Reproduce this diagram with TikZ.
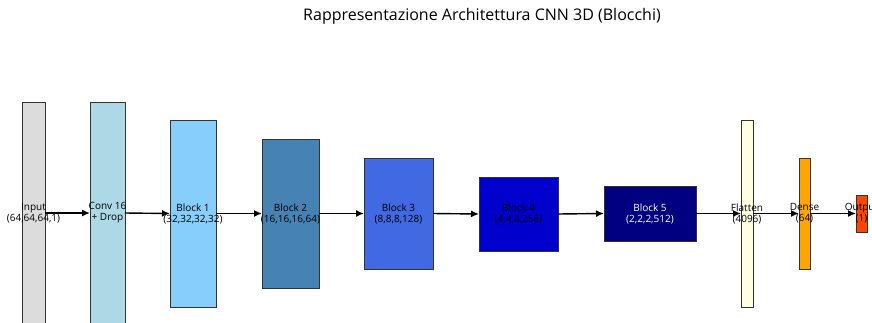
\documentclass[tikz,border=0pt]{standalone}
\usepackage{fontspec}
\setmainfont{Open Sans}
\usetikzlibrary{arrows.meta}
\definecolor{cInput}{HTML}{DCDCDC}
\definecolor{cConv}{HTML}{ADD8E6}
\definecolor{cB1}{HTML}{87CEFA}
\definecolor{cB2}{HTML}{4682B4}
\definecolor{cB3}{HTML}{4169E1}
\definecolor{cB4}{HTML}{0000CD}
\definecolor{cB5}{HTML}{000080}
\definecolor{cFlat}{HTML}{FFFFE0}
\definecolor{cDense}{HTML}{FFA500}
\definecolor{cOut}{HTML}{FF4500}
\definecolor{edge}{HTML}{333333}
\tikzset{
  layerbox/.style={draw=edge, line width=1pt, inner sep=0pt, outer sep=0pt, rectangle},
  lbl/.style={font=\fontsize{10}{11}\selectfont, align=center, inner sep=0pt},
  flow/.style={-{Latex[length=8pt,width=7pt]}, line width=1.4pt, black},
}
\newcommand{\layer}[6]{% name, x-left, x-right, y-top, y-bottom, colour
  \node[layerbox, fill=#6, minimum width=#3pt-#2pt, minimum height=#5pt-#4pt]
    (#1) at ({(#2+#3)/2}, {(#4+#5)/2}) {};
}
\begin{document}
\begin{tikzpicture}[x=1pt, y=-1pt]
\useasboundingbox (0,0) rectangle (872,322);
\clip (0,0) rectangle (872,322);
\fill[white] (0,0) rectangle (872,322);

\node[font=\fontsize{16}{19}\selectfont, inner sep=0pt] (title) at (482,16) {Rappresentazione Architettura CNN 3D (Blocchi)};

\layer{in}{22}{45}{102}{324}{cInput}
\layer{conv}{90}{125}{102}{324}{cConv}
\layer{b1}{170}{216}{120}{307}{cB1}
\layer{b2}{262}{319}{139}{288}{cB2}
\layer{b3}{364}{433}{158}{269}{cB3}
\layer{b4}{479}{558}{177}{251}{cB4}
\layer{b5}{604}{696}{186}{241}{cB5}
\layer{flat}{741}{753}{120}{307}{cFlat}
\layer{dense}{799}{810}{158}{269}{cDense}
\layer{out}{856}{867}{195}{232}{cOut}

\node[lbl] (tin) at (in.center) {Input\\(64,64,64,1)};
\node[lbl] (tconv) at (conv.center) {Conv 16\\+ Drop};
\node[lbl] (tb1) at (b1.center) {Block 1\\(32,32,32,32)};
\node[lbl] (tb2) at (b2.center) {Block 2\\(16,16,16,64)};
\node[lbl] (tb3) at (b3.center) {Block 3\\(8,8,8,128)};
\node[lbl] (tb4) at (b4.center) {Block 4\\(4,4,4,256)};
\node[lbl, text=white] (tb5) at (b5.center) {Block 5\\(2,2,2,512)};
\node[lbl] (tflat) at (flat.center) {Flatten\\(4096)};
\node[lbl] (tdense) at (dense.center) {Dense\\(64)};
\node[lbl] (tout) at (out.center) {Output\\(1)};

\draw[flow] (in.east) -- (conv.west);
\draw[flow] (conv.east) -- (b1.west);
\draw[flow] (b1.east) -- (b2.west);
\draw[flow] (b2.east) -- (b3.west);
\draw[flow] (b3.east) -- (b4.west);
\draw[flow] (b4.east) -- (b5.west);
\draw[flow] (b5.east) -- (flat.west);
\draw[flow] (flat.east) -- (dense.west);
\draw[flow] (dense.east) -- (out.west);
\end{tikzpicture}
\end{document}
